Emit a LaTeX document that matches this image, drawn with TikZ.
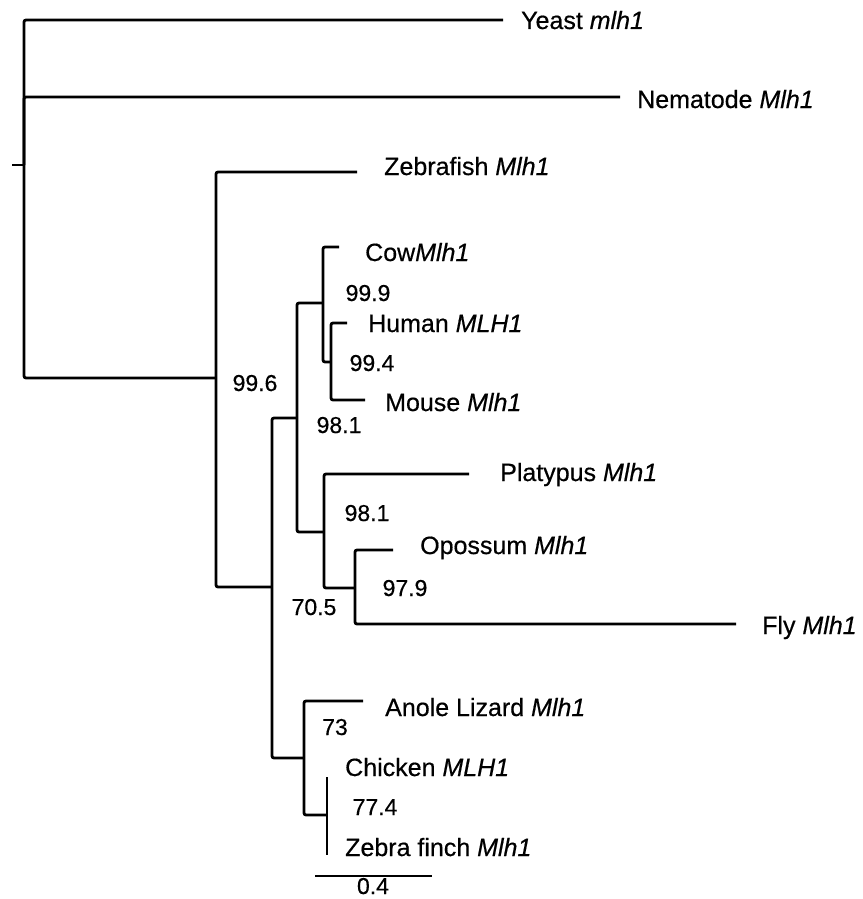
\documentclass[tikz,border=0pt]{standalone}
\usepackage{fontspec}
\setmainfont{Liberation Sans}[FakeBold=0.5]
\begin{document}
\begin{tikzpicture}[x=1pt,y=-1pt,
  br/.style={line width=2.8pt, black, rounded corners=2pt},
  leaf/.style={anchor=base west, inner sep=0pt, font=\fontsize{25}{29}\selectfont},
  boot/.style={anchor=base, inner sep=0pt, font=\fontsize{23}{27}\selectfont}]
\useasboundingbox (0,0) rectangle (862,899);
% internal nodes
\coordinate (stub) at (12,165);
\coordinate (root) at (24,165);
\coordinate (nA) at (216,378);
\coordinate (nB) at (272,587);
\coordinate (nC) at (297,418);
\coordinate (nF) at (323,303);
\coordinate (nH) at (331,362);
\coordinate (nG) at (324,532);
\coordinate (nI) at (355,588);
\coordinate (nD) at (304,758);
\coordinate (nE) at (327,815);
% tips
\coordinate (yeastTip) at (503,20);
\coordinate (nemTip) at (620,97);
\coordinate (zfTip) at (357,172);
\coordinate (cowTip) at (339,247);
\coordinate (humTip) at (347,323);
\coordinate (mouTip) at (365,400);
\coordinate (platTip) at (469,474);
\coordinate (opoTip) at (393,550);
\coordinate (flyTip) at (736,624);
\coordinate (anoTip) at (363,701);
\coordinate (chiTip) at (327,777);
\coordinate (finTip) at (327,855);
% branches
\draw[br] (stub) -- (root);
\draw[br] (yeastTip) -| (root) |- (nA);
\draw[br] (root) |- (nemTip);
\draw[br] (zfTip) -| (nA) |- (nB);
\draw[br] (nC) -| (nB) |- (nD);
\draw[br] (nF) -| (nC) |- (nG);
\draw[br] (cowTip) -| (nF) |- (nH);
\draw[br] (humTip) -| (nH) |- (mouTip);
\draw[br] (platTip) -| (nG) |- (nI);
\draw[br] (opoTip) -| (nI) |- (flyTip);
\draw[br] (anoTip) -| (nD) |- (nE);
\draw[br] (chiTip) -- (finTip);
% leaf labels
\node[leaf] (lYeast) at (521,29) {Yeast \textit{mlh1}};
\node[leaf] (lNem) at (637,108) {Nematode \textit{Mlh1}};
\node[leaf] (lZf) at (384,175) {Zebrafish \textit{Mlh1}};
\node[leaf] (lCow) at (365,261) {Cow\textit{Mlh1}};
\node[leaf] (lHum) at (368,332) {Human \textit{MLH1}};
\node[leaf] (lMou) at (385,411) {Mouse \textit{Mlh1}};
\node[leaf] (lPlat) at (500,481) {Platypus \textit{Mlh1}};
\node[leaf] (lOpo) at (420,554) {Opossum \textit{Mlh1}};
\node[leaf] (lFly) at (762,634) {Fly \textit{Mlh1}};
\node[leaf] (lAno) at (385,716) {Anole Lizard \textit{Mlh1}};
\node[leaf] (lChi) at (345,776) {Chicken \textit{MLH1}};
\node[leaf] (lFin) at (345,856) {Zebra finch \textit{Mlh1}};
% bootstrap values
\node[boot] (b996) at (255,391) {99.6};
\node[boot] (b999) at (368,301) {99.9};
\node[boot] (b994) at (372,371) {99.4};
\node[boot] (b981a) at (339,433) {98.1};
\node[boot] (b981b) at (367,521) {98.1};
\node[boot] (b979) at (405,596) {97.9};
\node[boot] (b705) at (314,615) {70.5};
\node[boot] (b73) at (335,735) {73};
\node[boot] (b774) at (375,815) {77.4};
% scale bar
\coordinate (sbL) at (315,876);
\coordinate (sbR) at (432,876);
\draw[line width=1.8pt] (sbL) -- (sbR);
\node[boot] (sbLab) at (373,894) {0.4};
\end{tikzpicture}
\end{document}
